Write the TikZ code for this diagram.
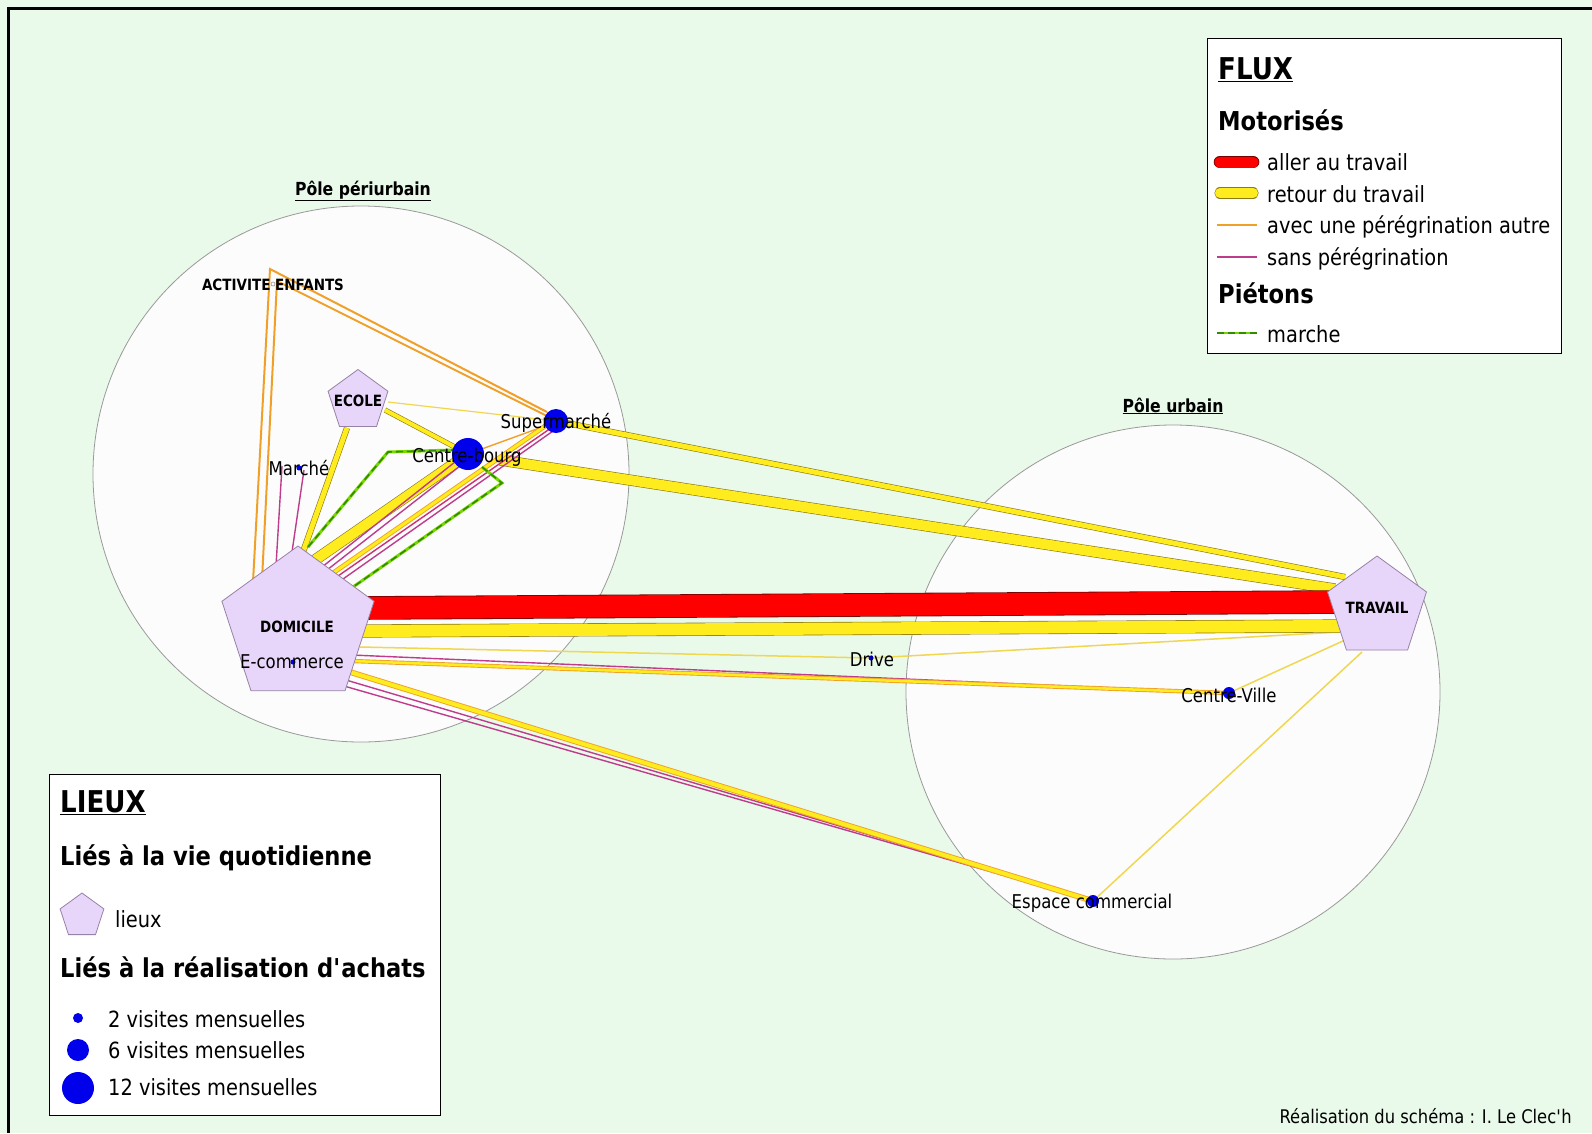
\documentclass[tikz,border=0pt]{standalone}
\usepackage{fontspec}
\setmainfont{DejaVu Sans}[FakeStretch=0.87]
\usetikzlibrary{shapes.geometric}

\definecolor{fond}{RGB}{234,250,234}
\definecolor{polefond}{RGB}{252,252,252}
\definecolor{lieufond}{RGB}{232,214,250}
\definecolor{lieubord}{RGB}{150,130,165}
\definecolor{jaune}{RGB}{255,236,30}
\definecolor{jaunebord}{RGB}{140,120,20}
\definecolor{jaunepale}{RGB}{240,215,80}
\definecolor{rouge}{RGB}{255,0,0}
\definecolor{rougebord}{RGB}{120,0,0}
\definecolor{orangef}{RGB}{240,160,40}
\definecolor{violet}{RGB}{190,60,140}
\definecolor{vert}{RGB}{120,215,0}
\definecolor{vertfonce}{RGB}{50,140,0}
\definecolor{bleu}{RGB}{0,0,235}

\tikzset{
    pole/.style={circle, draw=gray!80, fill=polefond, line width=0.8pt, inner sep=0pt},
    lieu/.style={regular polygon, regular polygon sides=5, draw=lieubord, fill=lieufond, line width=0.8pt, inner sep=0pt},
    achat/.style={circle, fill=bleu, inner sep=0pt},
    aller/.style={draw=rougebord, line width=0.8pt, double=rouge, double distance=22pt},
    retour/.style={draw=jaunebord, line width=0.6pt, double=jaune},
    autreband/.style={draw=orangef, line width=0.9pt, double=jaune},
    autre/.style={draw=orangef, line width=2pt},
    sans/.style={draw=violet, line width=1.4pt},
    faible/.style={draw=jaunepale, line width=1.5pt},
    pieton/.style={draw=vert, line width=3pt, postaction={draw=vertfonce, line width=1.6pt, dash pattern=on 7pt off 4pt}},
    titre/.style={font=\bfseries\fontsize{30}{34}\selectfont, inner sep=0pt, anchor=base west},
    soustitre/.style={font=\bfseries\fontsize{26}{30}\selectfont, inner sep=0pt, anchor=base west},
    legtexte/.style={font=\fontsize{22.3}{26}\selectfont, inner sep=0pt, anchor=base west},
    etiq/.style={font=\fontsize{19}{22}\selectfont, inner sep=0pt},
    nomlieu/.style={font=\bfseries\fontsize{15.5}{18}\selectfont, inner sep=0pt},
    poletitre/.style={font=\bfseries\fontsize{18}{22}\selectfont, inner sep=0pt, anchor=base}
}

\begin{document}
\begin{tikzpicture}[x=1pt, y=-1pt]
    \useasboundingbox (0,0) rectangle (1592,1133);
    \fill[fond] (0,0) rectangle (1592,1133);
    \draw[line width=3pt] (8.5,1133) -- (8.5,8.5) -- (1592,8.5);

    % les deux poles
    \node[pole, minimum size=536pt] (peri) at (361,474) {};
    \node[pole, minimum size=534pt] (urb) at (1173,692) {};
    \node[poletitre] at (363,195) {\underline{Pôle périurbain}};
    \node[poletitre] at (1173,412) {\underline{Pôle urbain}};

    % lieux
    \coordinate (dom) at (298,626);
    \coordinate (trav) at (1377,608);
    \coordinate (ecole) at (358,401);
    \coordinate (act) at (273,284);
    \coordinate (sup) at (556,421);
    \coordinate (cb) at (468,454);
    \coordinate (mche) at (299,468);
    \coordinate (ecom) at (293,662);
    \coordinate (drive) at (871,658);
    \coordinate (cville) at (1229,693);
    \coordinate (esp) at (1093,901);

    % bouts des flux
    \coordinate (domA) at (360,608);   \coordinate (travA) at (1340,602);
    \coordinate (domB) at (360,631);   \coordinate (travB) at (1340,626);
    \coordinate (domC) at (360,647);   \coordinate (travC) at (1340,632);
    \coordinate (domV1) at (352,655);  \coordinate (domV2) at (352,661);
    \coordinate (travV) at (1345,640); \coordinate (travE) at (1362,652);
    \coordinate (domE1) at (350,672);  \coordinate (domE2) at (346,680);
    \coordinate (domE3) at (344,686);
    \coordinate (cbT) at (500,460);    \coordinate (travCB) at (1335,589);
    \coordinate (travS) at (1345,577);
    \coordinate (domEc) at (303,552);  \coordinate (ecB) at (347,428);
    \coordinate (ecR) at (385,410);    \coordinate (ecS) at (388,402);
    \coordinate (supCB) at (545,426);
    \coordinate (domM1) at (276,566);  \coordinate (mche1) at (282,466);
    \coordinate (domM2) at (292,552);  \coordinate (mche2) at (304,470);
    \coordinate (domCB) at (312,562);
    \coordinate (domP1) at (322,567);  \coordinate (cbP1) at (455,462);
    \coordinate (domP2) at (327,570);  \coordinate (cbP2) at (460,466);
    \coordinate (domO) at (333,573);   \coordinate (supO) at (548,424);
    \coordinate (domP3) at (338,576);  \coordinate (supP3) at (551,428);
    \coordinate (domP4) at (343,579);  \coordinate (supP4) at (553,431);
    \coordinate (domA1) at (253,582);  \coordinate (actA1) at (270,269);
    \coordinate (supA1) at (547,412);
    \coordinate (domA2) at (262,580);  \coordinate (actA2) at (277,281);
    \coordinate (supA2) at (551,418);
    \coordinate (domW1) at (308,547);  \coordinate (w1) at (388,452);
    \coordinate (cbW1) at (453,450);
    \coordinate (cbW2) at (482,467);   \coordinate (w2) at (502,483);
    \coordinate (domW2) at (353,587);

    % flux vers le pole urbain
    \draw[faible] (domC) -- (drive) -- (travC);
    \draw[faible] (cville) -- (travV);
    \draw[faible] (esp) -- (travE);
    \draw[sans] (domV1) -- (cville);
    \draw[autreband, double distance=2.5pt] (domV2) -- (cville);
    \draw[sans] (domE2) -- (esp);
    \draw[sans] (domE3) -- (esp);
    \draw[autreband, double distance=4pt] (domE1) -- (esp);
    \draw[retour, double distance=5pt] (sup) -- (travS);
    \draw[retour, double distance=10pt] (cbT) -- (travCB);
    \draw[retour, double distance=12pt] (domB) -- (travB);
    \draw[aller] (domA) -- (travA);

    % flux dans le pole periurbain
    \draw[autre] (domA1) -- (actA1) -- (supA1);
    \draw[autre] (domA2) -- (actA2) -- (supA2);
    \draw[faible, line width=1.2pt] (ecS) -- (sup);
    \draw[autre, line width=1.4pt] (supCB) -- (cb);
    \draw[retour, double distance=4pt] (ecR) -- (cb);
    \draw[retour, double distance=5pt] (domEc) -- (ecB);
    \draw[sans] (domM1) -- (mche1);
    \draw[sans] (domM2) -- (mche2);
    \draw[retour, double distance=10pt] (domCB) -- (cb);
    \draw[sans] (domP1) -- (cbP1);
    \draw[sans] (domP2) -- (cbP2);
    \draw[autreband, double distance=3pt] (domO) -- (supO);
    \draw[sans, draw=violet!80!red] (domP3) -- (supP3);
    \draw[sans] (domP4) -- (supP4);
    \draw[pieton] (domW1) -- (w1) -- (cbW1);
    \draw[pieton] (cbW2) -- (w2) -- (domW2);

    % lieux de la vie quotidienne
    \node[lieu, minimum size=160pt] (domicile) at (dom) {};
    \node[lieu, minimum size=104pt] (travail) at (trav) {};
    \node[lieu, minimum size=63pt] (ecolep) at (ecole) {};
    \node[nomlieu] at (297,627) {DOMICILE};
    \node[nomlieu] at (1377,608) {TRAVAIL};
    \node[nomlieu] at (358,401) {ECOLE};
    \draw[gray, line width=0.5pt] (act) circle (2);
    \node[nomlieu] at (273,285) {ACTIVITE ENFANTS};

    % lieux d'achats
    \node[achat, minimum size=24pt] (supm) at (sup) {};
    \node[achat, minimum size=32pt] (cbourg) at (cb) {};
    \node[achat, minimum size=5pt] (marche) at (mche) {};
    \node[achat, minimum size=5pt] (ecommerce) at (ecom) {};
    \node[achat, minimum size=5pt] (drv) at (drive) {};
    \node[achat, minimum size=12pt] (cv) at (cville) {};
    \node[achat, minimum size=12pt] (espace) at (esp) {};
    \node[etiq] at (556,423) {Supermarché};
    \node[etiq] at (467,457) {Centre-bourg};
    \node[etiq] at (299,468) {Marché};
    \node[etiq] at (292,662) {E-commerce};
    \node[etiq] at (872,659) {Drive};
    \node[etiq] at (1229,695) {Centre-Ville};
    \node[etiq] at (1092,903) {Espace commercial};

    % legende des flux
    \draw[fill=white, line width=1pt] (1207,38) rectangle (1561,353);
    \node[titre] at (1218,79) {\underline{FLUX}};
    \node[soustitre] at (1218,130) {Motorisés};
    \draw[aller, double distance=11pt, line cap=round] (1220,162) -- (1253,162);
    \node[legtexte] at (1267,170) {aller au travail};
    \draw[retour, double distance=10pt, line cap=round] (1220,193) -- (1253,193);
    \node[legtexte] at (1267,202) {retour du travail};
    \draw[autre, line width=1.2pt] (1217,225) -- (1257,225);
    \node[legtexte] at (1267,233) {avec une pérégrination autre};
    \draw[sans, line width=1.2pt] (1217,257) -- (1257,257);
    \node[legtexte] at (1267,265) {sans pérégrination};
    \node[soustitre] at (1218,303) {Piétons};
    \draw[pieton, line width=2.5pt] (1217,333) -- (1257,333);
    \node[legtexte] at (1267,342) {marche};

    % legende des lieux
    \draw[fill=white, line width=1pt] (49,774) rectangle (440,1115);
    \node[titre] at (60,812) {\underline{LIEUX}};
    \node[soustitre] at (60,865) {Liés à la vie quotidienne};
    \node[lieu, minimum size=46pt] (leglieu) at (82,916) {};
    \node[legtexte] at (115,927) {lieux};
    \node[soustitre] at (60,977) {Liés à la réalisation d\textquotesingle achats};
    \node[achat, minimum size=10pt] (leg2) at (78,1018) {};
    \node[achat, minimum size=22pt] (leg6) at (78,1050) {};
    \node[achat, minimum size=32pt] (leg12) at (78,1088) {};
    \node[legtexte] at (108,1027) {2 visites mensuelles};
    \node[legtexte] at (108,1058) {6 visites mensuelles};
    \node[legtexte] at (108,1095) {12 visites mensuelles};

    \node[font=\fontsize{18.8}{22}\selectfont, inner sep=0pt, anchor=base east] at (1572,1123) {Réalisation du schéma : I. Le Clec\textquotesingle h};
\end{tikzpicture}
\end{document}
